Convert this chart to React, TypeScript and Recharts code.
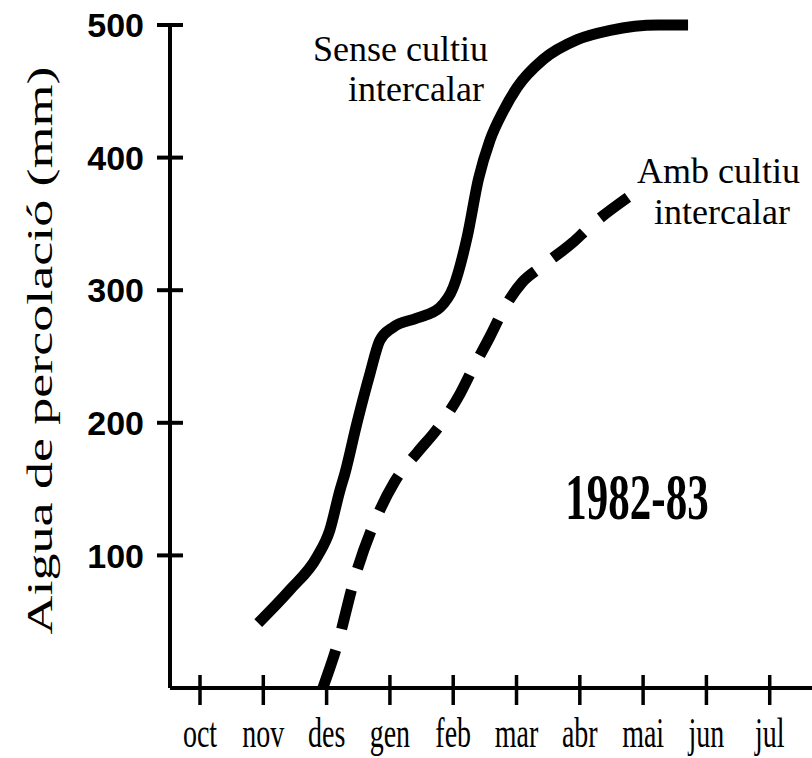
import { LineChart, Line, XAxis, YAxis, Label } from 'recharts'

// month ticks along the x axis (index 0 = oct)
const months = ['oct', 'nov', 'des', 'gen', 'feb', 'mar', 'abr', 'mai', 'jun', 'jul']
const monthTicks = [0, 1, 2, 3, 4, 5, 6, 7, 8, 9]
const valueTicks = [100, 200, 300, 400, 500]

// "Sense cultiu intercalar" (solid) - x in months from oct, y in mm
const senseX = [0.92, 1.42, 1.85, 2.05, 2.21, 2.29, 2.48, 2.69, 2.84, 3.05, 3.43, 3.79, 4.0, 4.22, 4.4, 4.58, 4.79, 5.01, 5.42, 5.96, 6.48, 7.24, 7.71]
const senseY = [49, 74, 99, 119, 149, 162, 200, 238, 262, 272, 279, 287, 302, 340, 384, 413, 435, 453, 474, 489, 496, 500, 500]

// "Amb cultiu intercalar" (dashed)
const ambX = [1.94, 2.16, 2.45, 2.84, 3.08, 3.44, 3.74, 4.11, 4.3, 4.58, 4.79, 5.09, 5.37, 5.89, 6.16, 6.76]
const ambY = [0, 31, 84, 134, 156, 178, 195, 222, 240, 265, 285, 306, 317, 336, 348, 370]

const senseData = senseX.map((x, i) => ({ x, y: senseY[i] }))
const ambData = ambX.map((x, i) => ({ x, y: ambY[i] }))

const serif = "'Liberation Serif', 'Times New Roman', serif"
const sans = "'Liberation Sans', Arial, sans-serif"

function MonthTick(props: any) {
  const { x, y, payload } = props
  return (
    <g>
      <line x1={x} x2={x} y1={y - 13} y2={y + 17} stroke="#000" strokeWidth={3.5} />
      <text
        transform={`translate(${x},${y + 59}) scale(1,1.5)`}
        textAnchor="middle"
        fontFamily={serif}
        fontSize={28}
        fill="#000"
      >
        {months[payload.value]}
      </text>
    </g>
  )
}

function ValueTick(props: any) {
  const { x, y, payload } = props
  return (
    <g>
      <line x1={x - 13} x2={x + 13} y1={y} y2={y} stroke="#000" strokeWidth={4} />
      <text x={x - 26} y={y} dy="0.36em" textAnchor="end" fontFamily={sans} fontWeight="bold" fontSize={34} fill="#000">
        {payload.value}
      </text>
    </g>
  )
}

function YTitle(props: any) {
  const vb = props.viewBox || { x: 0, y: 25, width: 170, height: 663 }
  const cx = vb.x + 52
  const cy = vb.y + vb.height / 2 - 6
  return (
    <text
      transform={`translate(${cx},${cy}) rotate(-90) scale(1.5,1)`}
      textAnchor="middle"
      fontFamily={serif}
      fontSize={36}
      fill="#000"
    >
      Aigua de percolació (mm)
    </text>
  )
}

export default function App() {
  return (
    <div style={{ position: 'absolute', left: 0, top: 0, width: 812, height: 758, background: '#fff' }}>
      <LineChart width={812} height={758} margin={{ top: 25, right: 0, bottom: 0, left: 0 }}>
        <XAxis
          type="number"
          dataKey="x"
          domain={[-0.474, 9.668]}
          ticks={monthTicks}
          allowDataOverflow
          height={70}
          tickSize={0}
          tickMargin={0}
          tickLine={false}
          axisLine={{ stroke: '#000', strokeWidth: 4 }}
          tick={<MonthTick />}
          interval={0}
        />
        <YAxis
          type="number"
          dataKey="y"
          domain={[0, 500]}
          ticks={valueTicks}
          width={170}
          tickSize={0}
          tickMargin={0}
          tickLine={false}
          axisLine={{ stroke: '#000', strokeWidth: 4 }}
          tick={<ValueTick />}
          interval={0}
        >
          <Label content={<YTitle />} />
        </YAxis>
        <Line
          data={senseData}
          dataKey="y"
          type="monotone"
          stroke="#000"
          strokeWidth={11}
          dot={false}
          activeDot={false}
          isAnimationActive={false}
        />
        <Line
          data={ambData}
          dataKey="y"
          type="monotone"
          stroke="#000"
          strokeWidth={11}
          strokeDasharray="40 22"
          dot={false}
          activeDot={false}
          isAnimationActive={false}
        />
      </LineChart>
      <svg width={812} height={758} style={{ position: 'absolute', left: 0, top: 0, pointerEvents: 'none' }}>
        <g fontFamily={serif} fontSize={36} fill="#000" textAnchor="end">
          <text x={488} y={61}>Sense cultiu</text>
          <text x={484} y={101}>intercalar</text>
          <text x={800} y={183}>Amb cultiu</text>
          <text x={790} y={224}>intercalar</text>
        </g>
        <text
          transform="translate(637,519) scale(1,1.5)"
          textAnchor="middle"
          fontFamily={serif}
          fontWeight="bold"
          fontSize={43}
          fill="#000"
        >
          1982-83
        </text>
      </svg>
    </div>
  )
}
